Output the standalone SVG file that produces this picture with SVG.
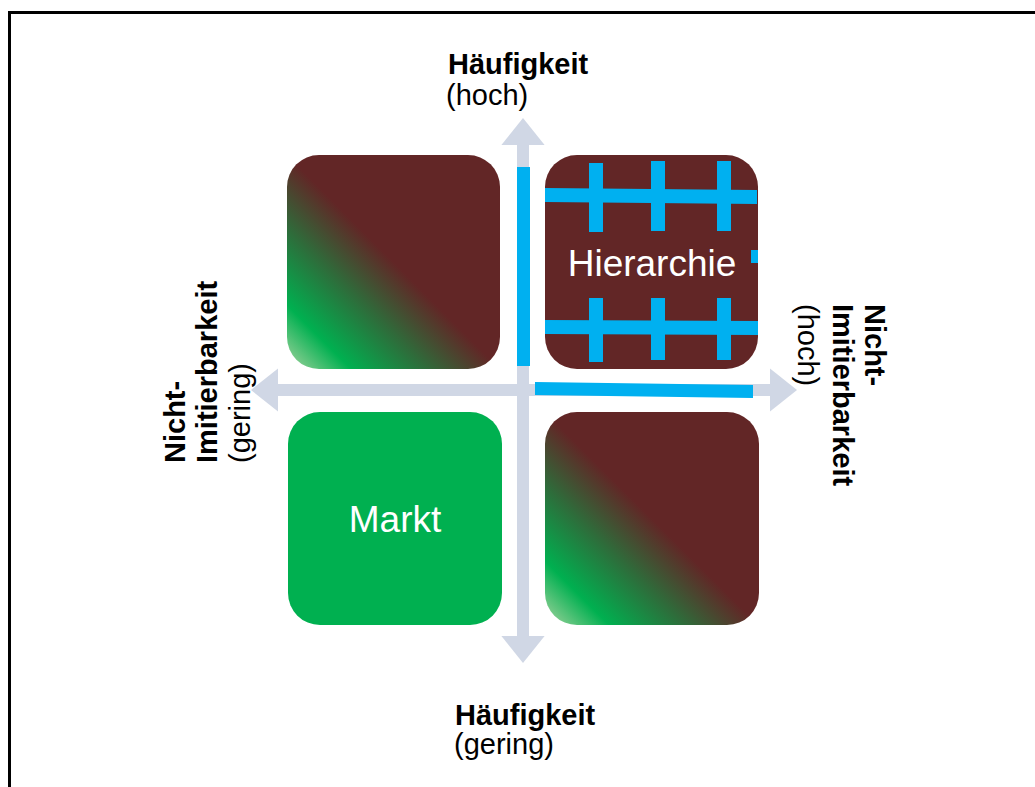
<svg xmlns="http://www.w3.org/2000/svg" width="1035" height="787" viewBox="0 0 1035 787">
<defs>
<linearGradient id="mix" x1="0" y1="1" x2="1" y2="0">
<stop offset="0" stop-color="#a8d4a0"/>
<stop offset="0.15" stop-color="#00b050"/>
<stop offset="0.33" stop-color="#2f6b3a"/>
<stop offset="0.5" stop-color="#622626"/>
<stop offset="1" stop-color="#622626"/>
</linearGradient>
<marker id="ah" viewBox="0 0 10 16" refX="0" refY="8" markerWidth="2.25" markerHeight="3.6" orient="auto" markerUnits="strokeWidth">
<path d="M0,0 L10,8 L0,16 Z" fill="#d0d7e5"/>
</marker>
<style>
.lbl{font-family:"Liberation Sans",Arial,sans-serif;font-size:29px;fill:#000}
.b{font-weight:bold}
.in{font-family:"Liberation Sans",Arial,sans-serif;font-size:37px;fill:#fff;text-anchor:middle}
.blue{fill:#00b0f0}
.axis{stroke:#d0d7e5;stroke-width:12;fill:none}
</style>
</defs>
<rect width="1035" height="787" fill="#fff"/>
<path d="M9.5,787 V12.5 H1035" fill="none" stroke="#000" stroke-width="3"/>
<g id="connectors">
<line class="axis" x1="523" y1="390" x2="523" y2="145" marker-end="url(#ah)"/>
<line class="axis" x1="523" y1="390" x2="523" y2="636" marker-end="url(#ah)"/>
<line class="axis" x1="523" y1="390" x2="278" y2="390" marker-end="url(#ah)"/>
<line class="axis" x1="523" y1="390" x2="770" y2="390" marker-end="url(#ah)"/>
</g>
<g id="node-topleft"><rect x="287" y="155" width="213" height="214" rx="32" fill="url(#mix)"/></g>
<g id="node-hierarchie">
<rect x="545" y="155" width="213" height="214" rx="32" fill="#622626"/>
<polygon class="blue" points="545,188 757,190 757,204 545,202"/>
<polygon class="blue" points="545,320 758,321 758,335 545,334"/>
<rect class="blue" x="589" y="163" width="14" height="69"/>
<rect class="blue" x="651" y="161" width="14" height="70"/>
<rect class="blue" x="717" y="161" width="14" height="70"/>
<rect class="blue" x="589" y="298" width="14" height="64"/>
<rect class="blue" x="651" y="298" width="14" height="62"/>
<rect class="blue" x="717" y="298" width="14" height="62"/>
<rect class="blue" x="751" y="250" width="7" height="13"/>
<text class="in" x="652" y="276">Hierarchie</text>
</g>
<g id="node-markt">
<rect x="288" y="412" width="214" height="213" rx="32" fill="#00b050"/>
<text class="in" x="395" y="532">Markt</text>
</g>
<g id="node-bottomright"><rect x="545" y="412" width="214" height="213" rx="32" fill="url(#mix)"/></g>
<g id="blue-lines">
<rect class="blue" x="517" y="167" width="13" height="199"/>
<polygon class="blue" points="535,382 753,385 753,398 535,395"/>
</g>
<g id="label-top">
<text class="lbl b" x="448" y="74">Häufigkeit</text>
<text class="lbl" x="446" y="105">(hoch)</text>
</g>
<g id="label-bottom">
<text class="lbl b" x="455" y="725">Häufigkeit</text>
<text class="lbl" x="454" y="754">(gering)</text>
</g>
<g id="label-left">
<text class="lbl b" transform="translate(185,463) rotate(-90)">Nicht-</text>
<text class="lbl b" transform="translate(217,463) rotate(-90)">Imitierbarkeit</text>
<text class="lbl" transform="translate(250,463) rotate(-90)">(gering)</text>
</g>
<g id="label-right">
<text class="lbl b" transform="translate(865,304) rotate(90)">Nicht-</text>
<text class="lbl b" transform="translate(833,304) rotate(90)">Imitierbarkeit</text>
<text class="lbl" transform="translate(798,304) rotate(90)">(hoch)</text>
</g>
</svg>
